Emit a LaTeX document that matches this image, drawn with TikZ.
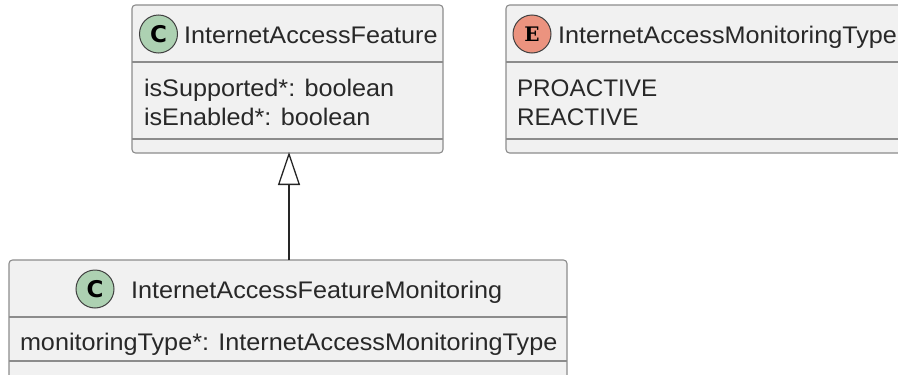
\documentclass[tikz,border=0pt]{standalone}
\usepackage{fontspec}
\setmainfont[FakeStretch=1.05]{Liberation Sans}
\usetikzlibrary{arrows.meta}
\definecolor{boxfill}{HTML}{F1F1F1}
\definecolor{boxline}{HTML}{8C8C8C}
\definecolor{txt}{HTML}{282828}
\definecolor{cgreen}{HTML}{ADD1B2}
\definecolor{ered}{HTML}{EB937F}
\newfontfamily\badgesans{DejaVu Sans}
\newfontfamily\badgeserif{DejaVu Serif}
\newfontfamily\capsfont[FakeStretch=1.012]{Liberation Sans}
\tikzset{
  x=1pt,y=-1pt,
  umlbox/.style={draw=boxline,fill=boxfill,line width=1.1pt,rounded corners=3.5pt,inner sep=0pt,outer sep=0pt},
  sep/.style={draw=boxline,line width=1.1pt},
  lbl/.style={inner sep=0pt,outer sep=0pt,anchor=base west,text=txt,font=\fontsize{24}{26}\selectfont},
  capslbl/.style={lbl,font=\capsfont\fontsize{24}{26}\selectfont},
  badge/.style={circle,draw=black!75,line width=1pt,minimum size=38pt,inner sep=0pt},
  badgetxt/.style={inner sep=0pt,text=black},
  inherit/.style={draw=black!85,line width=1.3pt,-{Triangle[open,length=33pt,width=22pt,line width=1.3pt]}},
}
\begin{document}
\begin{tikzpicture}
\useasboundingbox (0,0) rectangle (898,375);
\clip (0,0) rectangle (898,375);
% class A
\path[umlbox] (132,5) rectangle (443,153);
\node[inner sep=0,outer sep=0,minimum width=311pt,minimum height=148pt] (a) at (287.5,79) {};
\draw[sep] (132,62) -- (443,62);
\draw[sep] (132,139) -- (443,139);
\node[badge,fill=cgreen] (ab) at (158.5,34) {};
\node[badgetxt,font=\badgesans\bfseries\fontsize{23}{23}\selectfont] (abt) at (ab) {C};
\node[lbl] (at) at (184,43) {InternetAccessFeature};
\node[lbl] (a1) at (144,96) {isSupported*: boolean};
\node[lbl] (a2) at (144,125) {isEnabled*: boolean};
% enum
\path[umlbox] (506,5) rectangle (930,153);
\draw[sep] (506,62) -- (930,62);
\draw[sep] (506,139) -- (930,139);
\node[badge,fill=ered] (eb) at (532,34) {};
\node[badgetxt,font=\badgeserif\bfseries\fontsize{20}{20}\selectfont] (ebt) at (eb) {E};
\node[lbl] (et) at (558,43) {InternetAccessMonitoringType};
\node[capslbl] (e1) at (517,96) {PROACTIVE};
\node[capslbl] (e2) at (517,125) {REACTIVE};
% class B
\path[umlbox] (9,260) rectangle (567,395);
\node[inner sep=0,outer sep=0,minimum width=558pt,minimum height=1pt,anchor=north] (b) at (288,260) {};
\draw[sep] (9,317) -- (567,317);
\draw[sep] (9,361) -- (567,361);
\node[badge,fill=cgreen] (bb) at (95,289) {};
\node[badgetxt,font=\badgesans\bfseries\fontsize{23}{23}\selectfont] (bbt) at (bb) {C};
\node[lbl] (bt) at (131,298) {InternetAccessFeatureMonitoring};
\node[lbl] (b1) at (20,350) {monitoringType*: InternetAccessMonitoringType};
% connector
\draw[inherit] ([xshift=1pt]b.north) -- ([xshift=1.5pt,yshift=1pt]a.south);
\end{tikzpicture}
\end{document}
